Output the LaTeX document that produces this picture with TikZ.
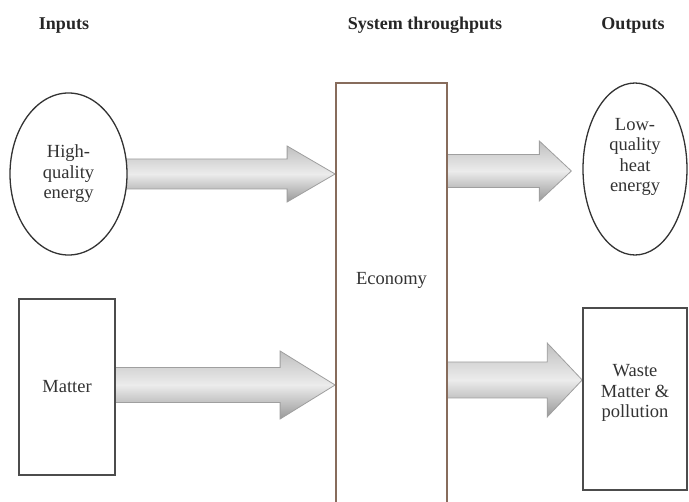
\documentclass[tikz,border=0pt]{standalone}
\usepackage{fontspec}
\setmainfont{Liberation Serif}
\usetikzlibrary{shapes.geometric,calc,shadows}
\pgfdeclarelayer{back}
\pgfsetlayers{back,main}

% block arrow: tail point, tip point, head length, shaft half-height, head half-height
\newcommand\blockarrow[5]{%
  \path[flowarrow] let \p1=#1, \p2=#2 in
    (\x1,\y2+#4pt) -- (\x2-#3pt,\y2+#4pt) -- (\x2-#3pt,\y2+#5pt) -- (\x2,\y2)
    -- (\x2-#3pt,\y2-#5pt) -- (\x2-#3pt,\y2-#4pt) -- (\x1,\y2-#4pt) -- cycle;}

\definecolor{ecoline}{RGB}{135,108,92}

\begin{document}
\begin{tikzpicture}[x=1pt,y=-1pt,
  heading/.style={font=\fontsize{18}{20}\selectfont\bfseries, text=black!85, anchor=base},
  body/.style={font=\fontsize{18.5}{20.5}\selectfont, text=black!80, align=center},
  oval/.style={ellipse, draw=black!80, fill=white, line width=1.3pt, inner sep=0pt},
  boxshape/.style={rectangle, draw=black!70, fill=white, line width=1.6pt, inner sep=0pt,
    drop shadow={opacity=0.25, shadow xshift=0.8pt, shadow yshift=-1.5pt}},
  flowarrow/.style={draw=gray!75, line width=0.8pt, top color=gray!50,
    bottom color=gray!80, middle color=white!85!gray}
]
\useasboundingbox (0,0) rectangle (689,502);
\clip (0,0) rectangle (689,502);

% column headings
\node[heading] (hin)  at (64,30)  {Inputs};
\node[heading] (hsys) at (425,30) {System throughputs};
\node[heading] (hout) at (633,30) {Outputs};

% inputs
\node[oval, body, minimum width=117, minimum height=162] (hq) at (68.5,174) {High-\\quality\\energy};
\node[boxshape, body, minimum width=96, minimum height=176] (matter) at (67,387) {Matter};

% economy
\node[rectangle, draw=ecoline, fill=white, line width=1.8pt, minimum width=111,
  minimum height=440, inner sep=0pt] (eco) at (391.5,303) {};
\node[body] (ecotext) at (391.5,280) {Economy};

% outputs
\node[oval, minimum width=104, minimum height=172] (lq) at (635,169) {};
\node[body] (lqtext) at (635,157) {Low-\\quality\\heat\\energy};
\node[boxshape, minimum width=104, minimum height=182] (waste) at (635,399) {};
\node[body] (wastetext) at (635,393) {Waste\\Matter \&\\pollution};

\coordinate (lowrow) at (0,380);
\coordinate (lqtip) at ($(lq.west)+(-11,2)$);

% flows
\begin{pgfonlayer}{back}
  \blockarrow{(hq.center)}{(hq.east -| eco.west)}{48}{15}{28}
  \blockarrow{(matter.center)}{($(matter.east -| eco.west)+(0,-2)$)}{55}{17.5}{34}
  \blockarrow{(eco.center)}{(lqtip)}{32}{16.5}{30}
  \blockarrow{(lowrow -| eco.center)}{(lowrow -| waste.west)}{35}{18}{37}
\end{pgfonlayer}
\end{tikzpicture}
\end{document}
